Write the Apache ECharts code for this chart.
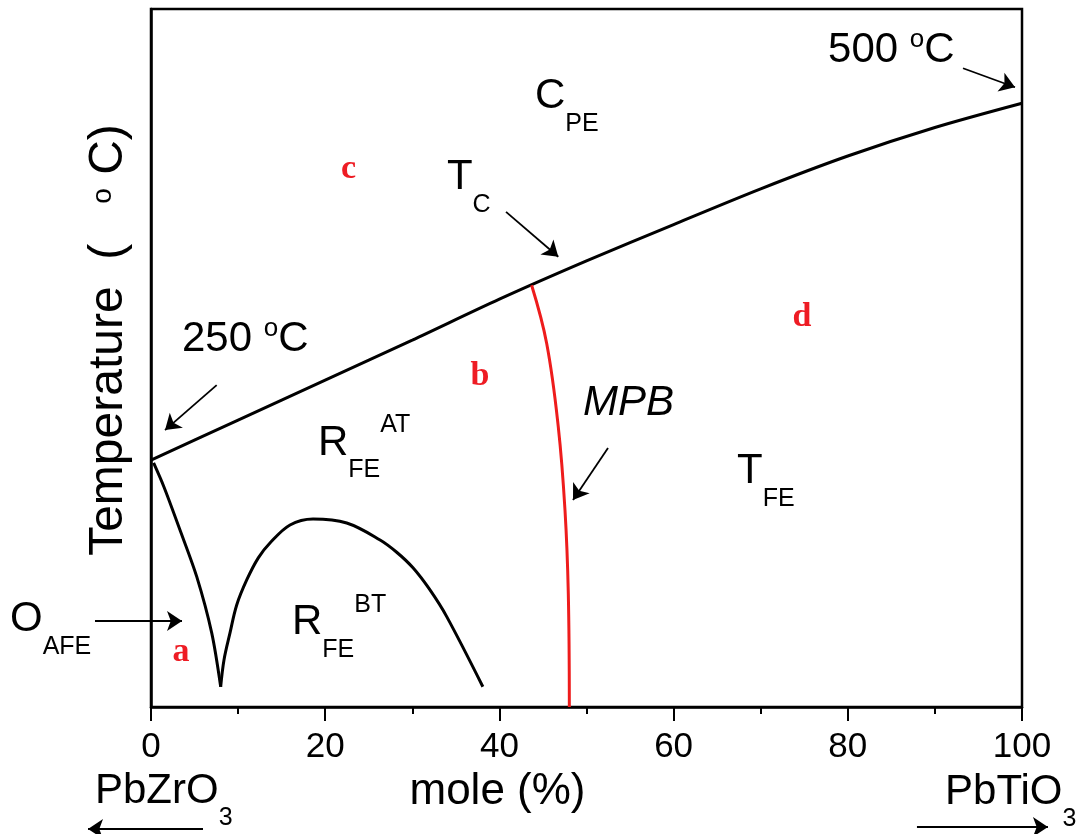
<!DOCTYPE html>
<html><head><meta charset="utf-8">
<script src="https://cdn.jsdelivr.net/npm/echarts@6/dist/echarts.min.js"></script>
<style>html,body{margin:0;padding:0;background:#fff}#c{width:1091px;height:834px}</style>
</head><body><div id="c"></div>
<script>
// Curie temperature line (Tc)
const tcX = [0, 10, 20, 30, 40, 50, 60, 70, 80, 90, 100];
const tcT = [250, 278, 306, 334, 362.7, 389.5, 415, 440, 463, 483, 500];
// O_AFE / R_FE boundary (left branch)
const afeX = [0.3, 1.5, 3.33, 5.25, 6.97, 8.0];
const afeT = [248, 231, 201, 168.3, 128.9, 91.2];
// R_FE^AT / R_FE^BT boundary (dome)
const rbtX = [8.0, 8.38, 9.07, 9.84, 10.99, 12.32, 13.66, 15.96, 18.6, 22.47, 26.3, 28.21, 30.08, 32.03, 33.95, 38.1];
const rbtT = [91.2, 110, 128.9, 148.5, 166, 181.5, 191.9, 204.5, 208.7, 205.9, 194, 185.4, 174.5, 159, 140.3, 91.2];
// Morphotropic phase boundary
const mpbX = [43.7, 45.43, 46.76, 47.53, 47.91, 48.03];
const mpbT = [372.5, 331.7, 273.3, 215, 156.7, 77];

// annotation texts (rich)
const labelText = ['{m|C}{sb|PE}', '{m|T}{sb|C}', '{m|250 }{dg|o}{m|C}', '{m|500 }{dg|o}{m|C}',
  '{m|R}{sb|FE}{sp|AT}', '{m|R}{sb|FE}{sp|BT}', '{m|T}{sb|FE}', '{it|MPB}', '{m|O}{sb|AFE}',
  '{m|PbZrO}{sb|3}', '{m|PbTiO}{sb|3}'];
const labelX = [44.09, 33.98, 3.56, 77.73, 19.17, 16.19, 67.28, 49.6, -16.19, -6.43, 91.16];
const labelT = [504.9, 447.8, 334.7, 537.1, 261.9, 136.2, 241.9, 289.9, 138.3, 18.2, 17.5];

// red region letters
const letterText = ['a', 'b', 'c', 'd'];
const letterX = [3.44, 37.77, 22.68, 74.74];
const letterT = [115.5, 308.8, 454.1, 349.8];

// annotation arrows (head at the "to" point)
const arrowFrom = [[7.54, 302.5], [40.76, 423.9], [93.23, 524.5], [52.47, 258.4], [-6.43, 137.3], [5.97, -8.4], [87.94, -7.0]];
const arrowTo   = [[1.61, 271], [46.76, 392.4], [99.2, 511.2], [48.45, 222], [3.56, 137.3], [-7.23, -8.4], [102.98, -7.0]];

const xTicks = [0, 20, 40, 60, 80, 100];

const zip = (a, b) => a.map((v, i) => [v, b[i]]);
const FONT = 'Liberation Sans';
const rich = {
  m: {fontFamily: FONT, fontSize: 42, lineHeight: 80, color: '#000'},
  sb: {fontFamily: FONT, fontSize: 25, lineHeight: 30, verticalAlign: 'bottom', color: '#000'},
  sp: {fontFamily: FONT, fontSize: 25, verticalAlign: 'top', padding: [10, 0, 0, 0], color: '#000'},
  dg: {fontFamily: FONT, fontSize: 26, verticalAlign: 'top', padding: [17, 0, 0, 0], color: '#000'},
  it: {fontFamily: FONT, fontSize: 42, lineHeight: 80, fontStyle: 'italic', color: '#000'}
};

const chart = echarts.init(document.getElementById('c'));
chart.setOption({
  animation: false,
  backgroundColor: '#fff',
  grid: {left: 151, right: 69, top: 9, bottom: 127, show: true, borderColor: '#000', borderWidth: 2.5, backgroundColor: 'transparent'},
  xAxis: {
    type: 'value', min: xTicks[0], max: xTicks[xTicks.length - 1], interval: 20,
    name: 'mole (%)', nameLocation: 'middle', nameGap: 38,
    nameTextStyle: {fontFamily: FONT, fontSize: 44, color: '#000', padding: [0, 178, 0, 0]},
    axisLine: {lineStyle: {color: '#000', width: 2.5}},
    axisTick: {show: true, inside: false, length: 14, lineStyle: {color: '#000', width: 2}},
    minorTick: {show: true, splitNumber: 2, length: 7, lineStyle: {color: '#000', width: 2}},
    axisLabel: {fontFamily: FONT, fontSize: 35, color: '#000', margin: 23},
    splitLine: {show: false}
  },
  yAxis: {
    type: 'value', min: 77, max: 566,
    name: '{m|Temperature  (   }{dg|o}{m| C)}', nameLocation: 'middle', nameGap: 10,
    nameTextStyle: {padding: [0, 0, 0, 36], rich: {
      m: {fontFamily: FONT, fontSize: 48, lineHeight: 64, color: '#000'},
      dg: {fontFamily: FONT, fontSize: 28, verticalAlign: 'top', padding: [12, 0, 0, 0], color: '#000'}
    }},
    axisLine: {show: true, lineStyle: {color: '#000', width: 2.5}},
    axisTick: {show: false}, axisLabel: {show: false}, splitLine: {show: false}
  },
  series: [
    {type: 'line', data: zip(tcX, tcT), smooth: 0.3, showSymbol: false, symbol: 'none',
     lineStyle: {color: '#000', width: 3}, silent: true, clip: false},
    {type: 'line', data: zip(afeX, afeT), smooth: 0.3, showSymbol: false, symbol: 'none',
     lineStyle: {color: '#000', width: 3}, silent: true},
    {type: 'line', data: zip(rbtX, rbtT), smooth: 0.35, showSymbol: false, symbol: 'none',
     lineStyle: {color: '#000', width: 3}, silent: true},
    {type: 'line', data: zip(mpbX, mpbT), smooth: 0.4, showSymbol: false, symbol: 'none',
     lineStyle: {color: '#ee1c1c', width: 3}, silent: true},
    {type: 'lines', coordinateSystem: 'cartesian2d', clip: false, silent: true,
     symbol: ['none', 'arrow'], symbolSize: 15,
     lineStyle: {color: '#000', width: 1.8, opacity: 1},
     data: arrowFrom.map((f, i) => ({coords: [f, arrowTo[i]]}))},
    {type: 'scatter', clip: false, silent: true, symbolSize: 0, itemStyle: {color: '#000', opacity: 1},
     data: labelX.map((x, i) => ({value: [x, labelT[i]], label: {show: true, formatter: labelText[i],
       position: [0, 0], align: 'left', verticalAlign: 'middle', color: '#000', opacity: 1, rich: rich}}))},
    {type: 'scatter', clip: false, silent: true, symbolSize: 0, itemStyle: {color: '#ee1c24', opacity: 1},
     data: letterX.map((x, i) => ({value: [x, letterT[i]], label: {show: true, formatter: letterText[i],
       position: [0, 0], align: 'center', verticalAlign: 'middle', opacity: 1,
       fontFamily: 'Liberation Serif', fontWeight: 'bold', fontSize: 34, color: '#ee1c24'}}))}
  ]
});
</script></body></html>
